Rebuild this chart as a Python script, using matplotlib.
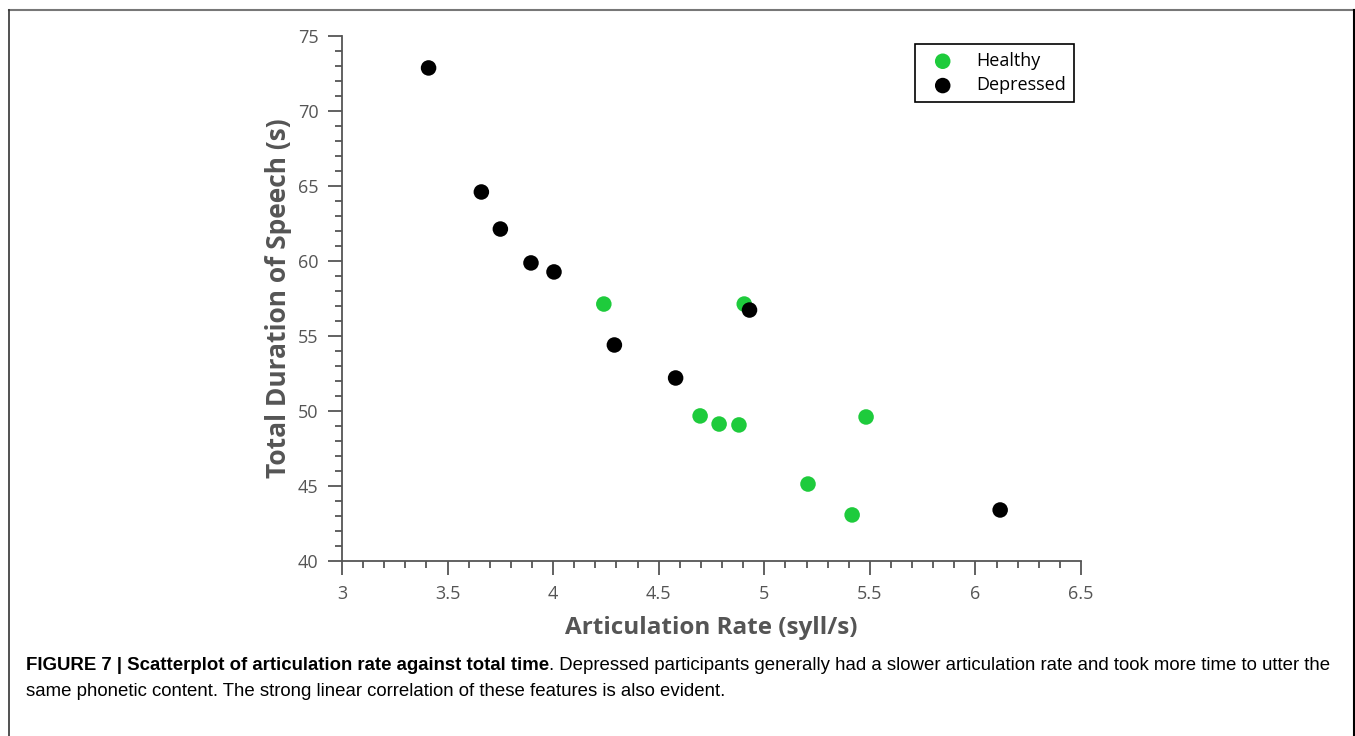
"""
Scatterplot of articulation rate vs total duration of speech
"""
import matplotlib
matplotlib.use("Agg")
import matplotlib.pyplot as plt
from matplotlib.lines import Line2D
from matplotlib.ticker import MultipleLocator

# data
healthy_rate = [4.24, 4.905, 4.696, 4.786, 4.88, 5.482, 5.207, 5.416]
healthy_time = [57.13, 57.13, 49.67, 49.13, 49.07, 49.6, 45.13, 43.07]
depressed_rate = [3.41, 3.66, 3.75, 3.895, 4.004, 4.29, 4.58, 4.93, 6.117]
depressed_time = [72.87, 64.6, 62.13, 59.87, 59.27, 54.4, 52.2, 56.73, 43.4]

xticks = [3, 3.5, 4, 4.5, 5, 5.5, 6, 6.5]
xticklabels = ["3", "3.5", "4", "4.5", "5", "5.5", "6", "6.5"]
yticks = [40, 45, 50, 55, 60, 65, 70, 75]

green = "#1ecb3c"
grey = "#555555"
axfont = ["Open Sans", "DejaVu Sans"]

fig = plt.figure(figsize=(13.55, 7.36), dpi=100)
ax = fig.add_axes([0.2524, 0.2378, 0.5454, 0.7133])

ax.scatter(healthy_rate, healthy_time, s=125, color=green, edgecolors="none",
           label="Healthy", zorder=3, clip_on=False)
ax.scatter(depressed_rate, depressed_time, s=125, color="black", edgecolors="none",
           label="Depressed", zorder=3, clip_on=False)

ax.set_xlim(3, 6.5)
ax.set_ylim(40, 75)
ax.set_xticks(xticks)
ax.set_xticklabels(xticklabels)
ax.set_yticks(yticks)
ax.xaxis.set_minor_locator(MultipleLocator(0.1))
ax.yaxis.set_minor_locator(MultipleLocator(1))

for s in ["top", "right"]:
    ax.spines[s].set_visible(False)
for s in ["left", "bottom"]:
    ax.spines[s].set_color(grey)
    ax.spines[s].set_linewidth(1.3)

ax.tick_params(which="major", length=10, width=1.3, color=grey, direction="out",
               labelsize=13, labelcolor=grey, pad=7)
ax.tick_params(which="minor", length=5, width=1.3, color=grey, direction="out")
for lab in ax.get_xticklabels() + ax.get_yticklabels():
    lab.set_family(axfont)

ax.set_xlabel("Articulation Rate (syll/s)", fontsize=17.5, fontweight="bold",
              color=grey, family=axfont, labelpad=10)
ax.set_ylabel("Total Duration of Speech (s)", fontsize=19, fontweight="bold",
              color=grey, family=axfont, labelpad=4)

leg = ax.legend(loc="upper right", bbox_to_anchor=(0.9905, 0.985), borderaxespad=0,
                frameon=True, fancybox=False, edgecolor="black", framealpha=1,
                handletextpad=0.75, borderpad=0.45, labelspacing=0.35,
                handlelength=2.2, prop={"family": axfont, "size": 13})
leg.get_frame().set_linewidth(1.2)

# figure border
W, H = 1355.0, 736.0
fig.add_artist(Line2D([9 / W, 1354 / W], [1 - 10 / H, 1 - 10 / H],
                      transform=fig.transFigure, color="#777777", lw=1.5))
fig.add_artist(Line2D([9 / W, 9 / W], [0, 1 - 10 / H],
                      transform=fig.transFigure, color="#333333", lw=1.2))
fig.add_artist(Line2D([1354 / W, 1354 / W], [0, 1 - 10 / H],
                      transform=fig.transFigure, color="black", lw=1.5))

# caption
capfont = ["Liberation Sans", "DejaVu Sans"]
bold = "FIGURE 7 | Scatterplot of articulation rate against total time"
rest = (". Depressed participants generally had a slower articulation rate "
        "and took more time to utter the")
line2 = ("same phonetic content. The strong linear correlation of these "
         "features is also evident.")
t1 = fig.text(26 / W, 1 - 666 / H, bold, fontsize=13.4, fontweight="bold",
              family=capfont, va="center")
fig.canvas.draw()
bb = t1.get_window_extent()
fig.text(bb.x1 / W, 1 - 666 / H, rest, fontsize=13.4, family=capfont, va="center")
fig.text(26 / W, 1 - 691 / H, line2, fontsize=13.4, family=capfont, va="center")

fig.savefig("out.png", dpi=100)
